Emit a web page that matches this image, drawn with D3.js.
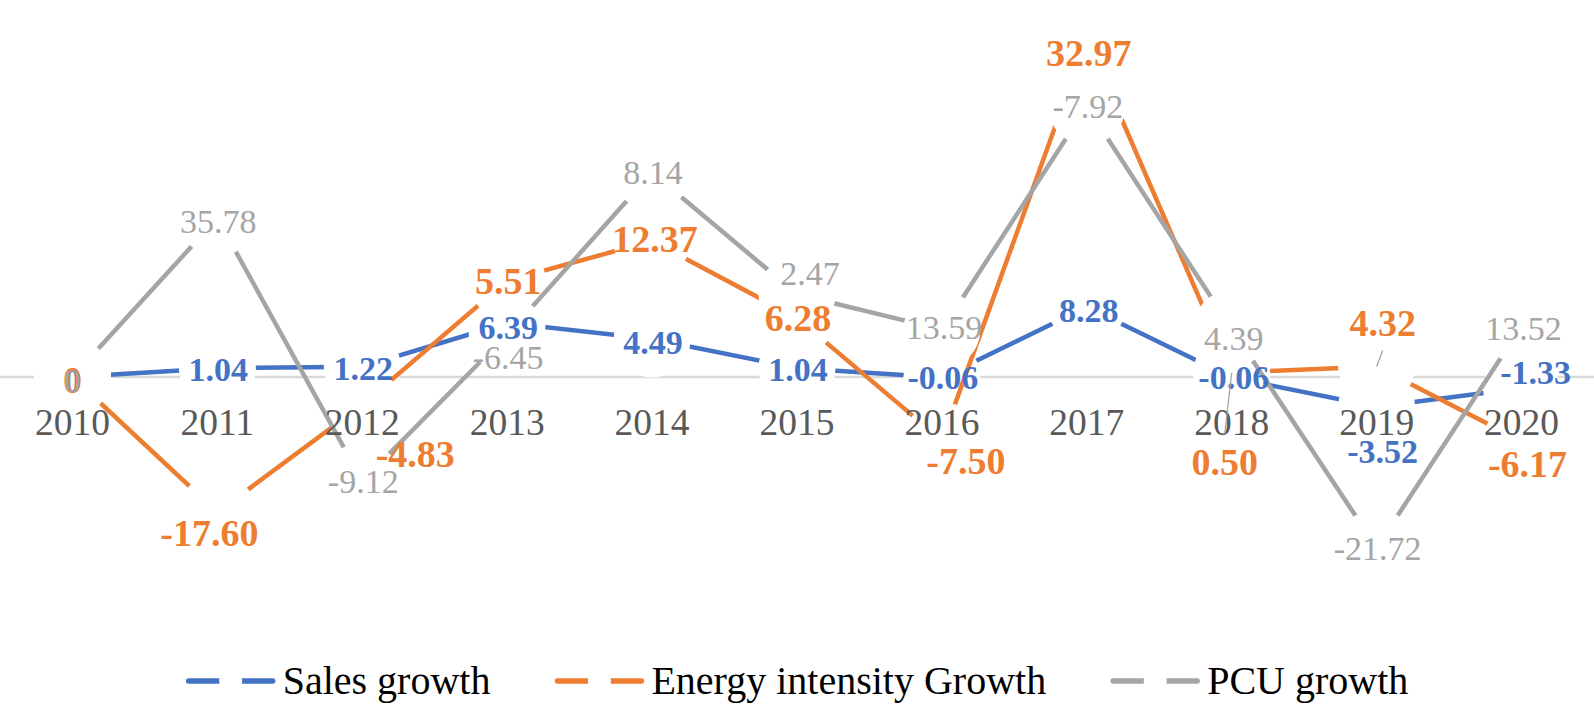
<!DOCTYPE html>
<html>
<head>
<meta charset="utf-8">
<script src="https://cdn.jsdelivr.net/npm/d3@7"></script>
<style>
  body { margin: 0; background: #fff; }
  svg { display: block; }
  svg text { font-family: "Liberation Serif", "Times New Roman", "DejaVu Serif", serif; }
</style>
</head>
<body>
<svg id="chart" width="1594" height="707"></svg>
<script>
// categories
var years = ["2010","2011","2012","2013","2014","2015","2016","2017","2018","2019","2020"];

// plotted values
var salesGrowth  = [0, 1.04, 1.22, 6.39, 4.49, 1.04, -0.06, 8.28, -0.06, -3.52, -1.33];
var energyGrowth = [0, -16.0, -3.3, 11.4, 16.1, 7.0, -7.5, 40.0, 0.5, 1.25, -7.6];
var pcuGrowth    = [0, 18.8, -12.3, 5.0, 24.2, 9.8, 5.6, 32.0, 5.7, -20.2, 6.0];

// data label texts as printed on the chart
var salesLabels  = ["0","1.04","1.22","6.39","4.49","1.04","-0.06","8.28","-0.06","-3.52","-1.33"];
var energyLabels = ["0","-17.60","-4.83","5.51","12.37","6.28","-7.50","32.97","0.50","4.32","-6.17"];
var pcuLabels    = ["0","35.78","-9.12","-6.45","8.14","2.47","13.59","-7.92","4.39","-21.72","13.52"];

// label nudges relative to the point (layout only)
var salesNudge  = [[0,3],[1,1],[1,2],[1,4],[1,3],[1,1],[1,0],[2,3],[2,0],[6,45],[14,-16]];
var energyNudge = [[0,3],[-8,21],[53,49],[1,0],[3,-2],[1,0],[24,21],[2,14],[-7,89],[6,-43],[6,23]];
var pcuNudge    = [[0,3],[1,3],[1,1],[1,23],[1,0],[13,-21],[2,-2],[1,0],[2,10],[1,1],[2,2]];
var energyLeaders = [8, 9];

var width = 1594, height = 707;
var svg = d3.select("#chart");

var x = d3.scalePoint().domain(years).range([0, width]).padding(0.5);
// zero sits at y=377, 8.45px per unit
var y = d3.scaleLinear().domain([-30, 45]).range([377 + 30 * 8.45, 377 - 45 * 8.45]);

var series = [
  {name: "Sales growth", color: "#4472C4", values: salesGrowth, labels: salesLabels, nudge: salesNudge, size: 34, weight: "bold", leaders: []},
  {name: "Energy intensity Growth", color: "#ED7D31", values: energyGrowth, labels: energyLabels, nudge: energyNudge, size: 38, weight: "bold", leaders: energyLeaders},
  {name: "PCU growth", color: "#A5A5A5", values: pcuGrowth, labels: pcuLabels, nudge: pcuNudge, size: 34, weight: "normal", leaders: []}
];

// zero gridline
svg.append("line")
  .attr("x1", 0).attr("x2", width)
  .attr("y1", y(0)).attr("y2", y(0))
  .attr("stroke", "#D9D9D9")
  .attr("stroke-width", 2.5);

var line = d3.line()
  .x(function(d, i){ return x(years[i]); })
  .y(function(d){ return y(d); });

// each series: line, then its big white markers
series.forEach(function(s){
  var g = svg.append("g");
  g.append("path")
    .datum(s.values)
    .attr("d", line)
    .attr("fill", "none")
    .attr("stroke", s.color)
    .attr("stroke-width", 4.5)
    .attr("stroke-linejoin", "round");
  g.selectAll("circle")
    .data(s.values)
    .enter().append("circle")
    .attr("cx", function(d, i){ return x(years[i]); })
    .attr("cy", function(d){ return y(d); })
    .attr("r", 38.5)
    .attr("fill", "#fff");
});

// category labels
svg.append("g").selectAll("text")
  .data(years)
  .enter().append("text")
  .attr("x", function(d){ return x(d); })
  .attr("y", 435)
  .attr("text-anchor", "middle")
  .attr("font-size", "37.5px")
  .attr("fill", "#595959")
  .text(function(d){ return d; });

// leader lines + data labels
series.forEach(function(s){
  var g = svg.append("g");
  s.leaders.forEach(function(i){
    var px = x(years[i]), py = y(s.values[i]);
    var lx = px + s.nudge[i][0], ly = py + s.nudge[i][1];
    var sy = ly + (py > ly ? 27 : -28);
    g.append("line")
      .attr("x1", lx).attr("y1", sy)
      .attr("x2", px).attr("y2", py)
      .attr("stroke", "#A6A6A6")
      .attr("stroke-width", 1.3);
  });
  g.selectAll("text")
    .data(s.labels)
    .enter().append("text")
    .attr("x", function(d, i){ return x(years[i]) + s.nudge[i][0]; })
    .attr("y", function(d, i){ return y(s.values[i]) + s.nudge[i][1] + 0.34 * s.size; })
    .attr("text-anchor", "middle")
    .attr("font-size", s.size + "px")
    .attr("font-weight", s.weight)
    .attr("fill", s.color)
    .text(function(d){ return d; });
});

// legend, centred under the plot
var keyW = 90, keyGap = 7, itemGap = 64, legendY = 681;
var legend = svg.append("g");
var items = legend.selectAll("g")
  .data(series)
  .enter().append("g");
items.append("text")
  .attr("y", legendY + 13)
  .attr("font-size", "40px")
  .attr("fill", "#000")
  .text(function(d){ return d.name; });
var widths = [];
items.select("text").each(function(){ widths.push(this.getComputedTextLength()); });
var total = d3.sum(widths) + series.length * (keyW + keyGap) + (series.length - 1) * itemGap;
var cursor = (width - total) / 2;
items.each(function(d, i){
  var item = d3.select(this);
  item.append("line")
    .attr("x1", cursor + 3).attr("x2", cursor + keyW - 3)
    .attr("y1", legendY).attr("y2", legendY)
    .attr("stroke", d.color)
    .attr("stroke-width", 5.5)
    .attr("stroke-linecap", "round");
  item.append("circle")
    .attr("cx", cursor + keyW / 2).attr("cy", legendY)
    .attr("r", 11.5)
    .attr("fill", "#fff");
  item.select("text").attr("x", cursor + keyW + keyGap).raise();
  cursor += keyW + keyGap + widths[i] + itemGap;
});
</script>
</body>
</html>
